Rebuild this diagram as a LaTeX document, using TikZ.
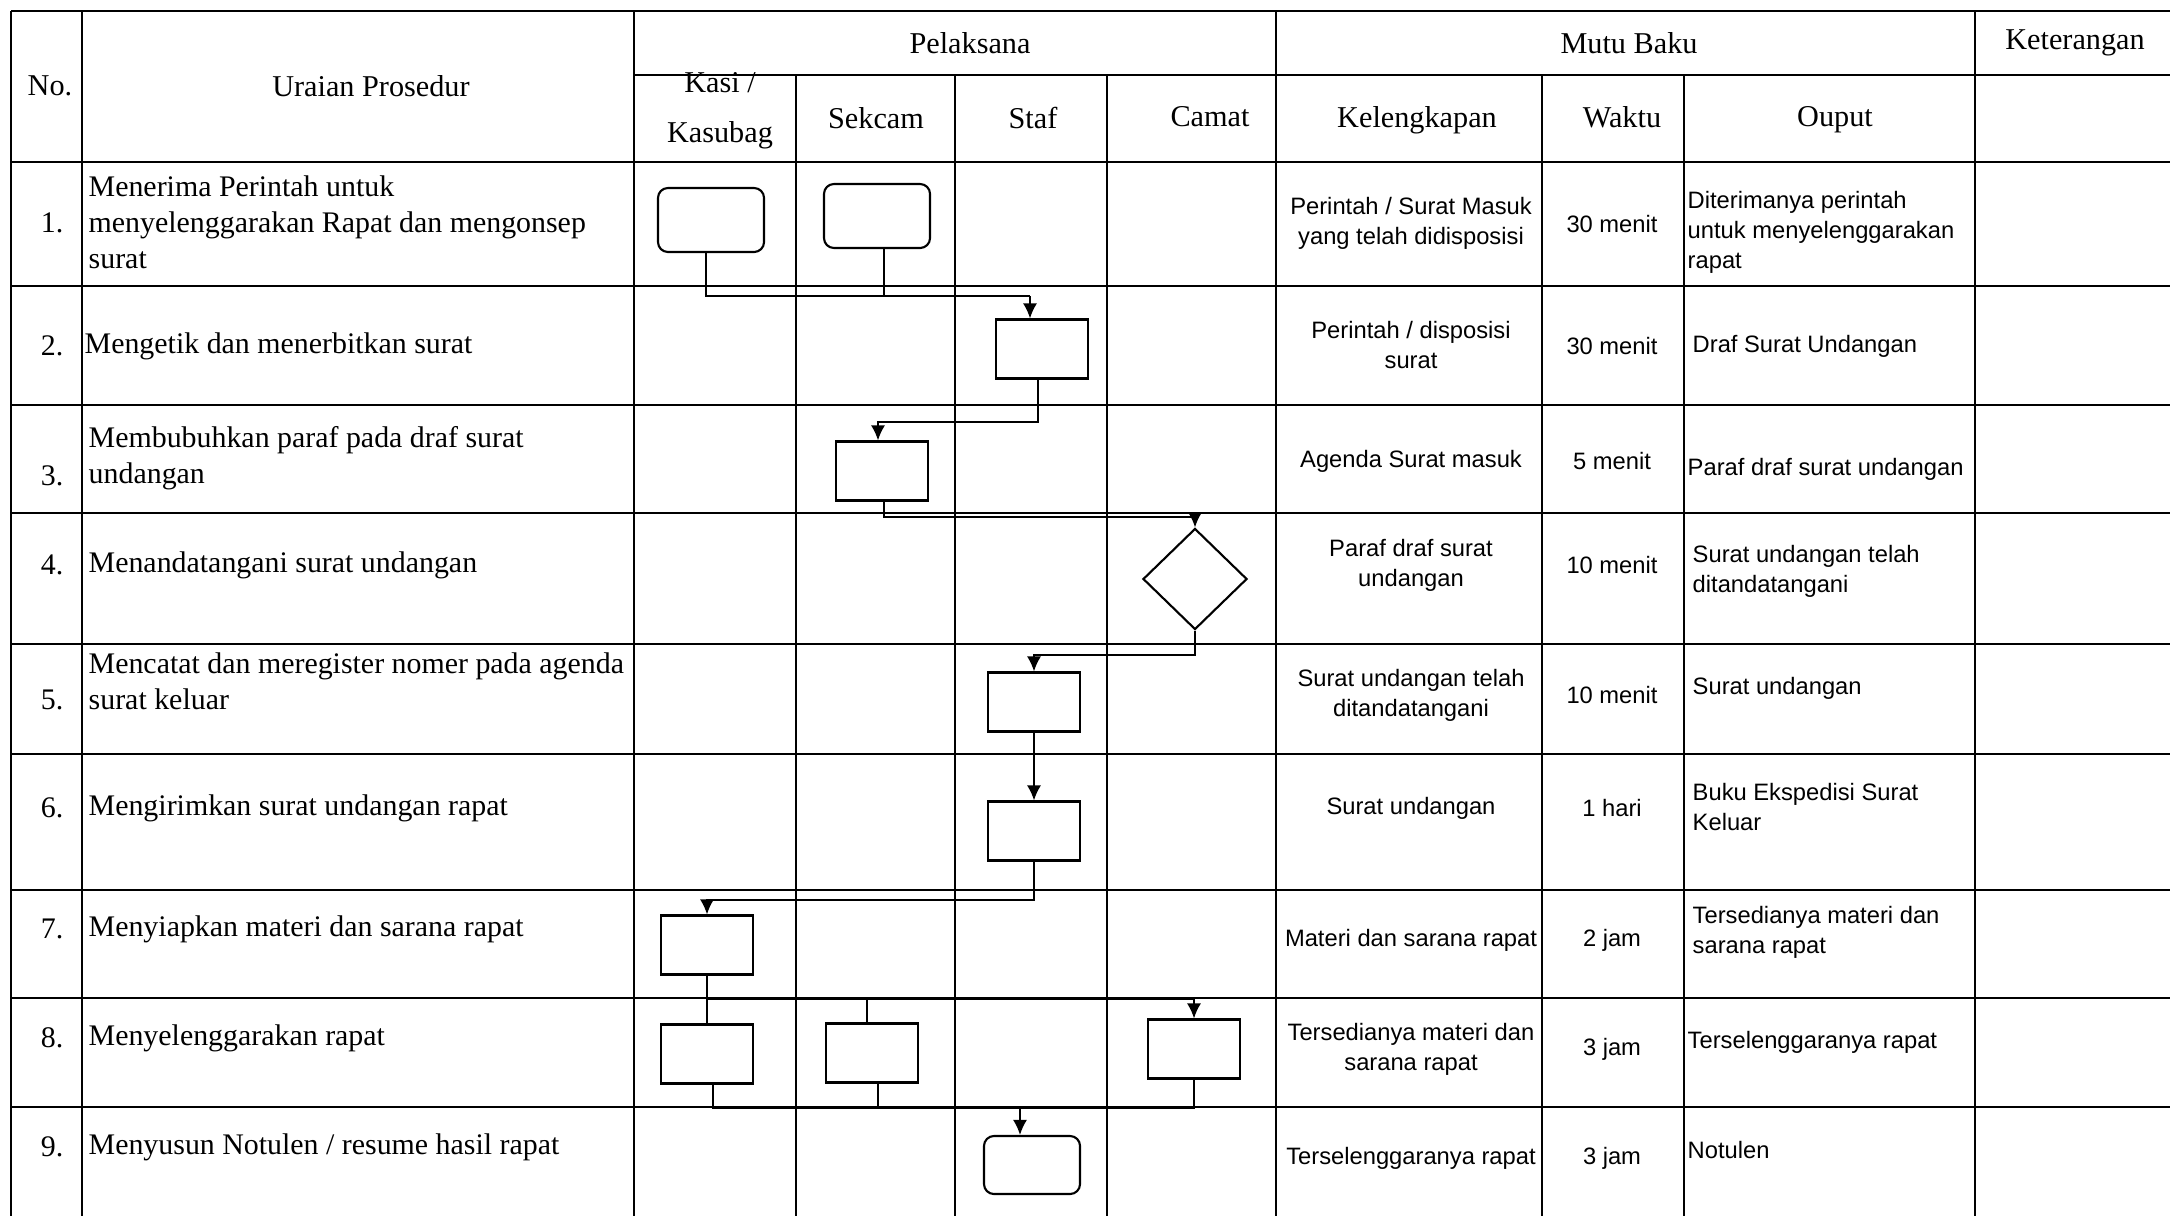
\documentclass[tikz,border=0pt]{standalone}
\usepackage{fontspec}
\setmainfont{Liberation Serif}
\newfontfamily\sansfont{Liberation Sans}
\usetikzlibrary{shapes.geometric,arrows.meta}

\tikzset{
  grid/.style={line width=0.75pt},
  proc/.style={draw, line width=0.6pt, minimum width=0.92cm, minimum height=0.59cm, inner sep=0pt},
  term/.style={proc, rounded corners=0.1cm, minimum width=1.06cm, minimum height=0.64cm},
  decide/.style={draw, diamond, line width=0.6pt, minimum width=1.04cm, minimum height=1.01cm, inner sep=0pt},
  conn/.style={line width=0.5pt},
  hd/.style={font=\fontsize{8.6}{10.3}\selectfont, inner sep=0pt, align=center},
  num/.style={font=\fontsize{8.5}{10.3}\selectfont, inner sep=0pt, anchor=east},
  txt/.style={font=\fontsize{8.5}{10.3}\selectfont, inner sep=0pt, anchor=west, align=left},
  sf/.style={font=\sansfont\fontsize{6.75}{8.5}\selectfont, inner sep=0pt, align=center},
  sfl/.style={sf, anchor=west, align=left}
}

\begin{document}
\begin{tikzpicture}[x=0.01cm, y=-0.01cm, >={Latex[length=1.5mm,width=1.4mm]}]
    \useasboundingbox (0,0) rectangle (2170,1215);
    \clip (0,0) rectangle (2170,1215);

    % garis tabel
    \draw[grid] (11,11) -- (2190,11);
    \draw[grid] (634,75) -- (2190,75);
    \foreach \y in {162,286,405,513,644,754,890,998,1107}
        \draw[grid] (11,\y) -- (2190,\y);
    \foreach \x in {11,82,634,1276,1975}
        \draw[grid] (\x,11) -- (\x,1230);
    \foreach \x in {796,955,1107,1542,1684}
        \draw[grid] (\x,75) -- (\x,1230);

    % kepala tabel
    \node[hd] (hno) at (50,86) {No.};
    \node[hd] (hur) at (371,86) {Uraian Prosedur};
    \node[hd] (hpel) at (970,43) {Pelaksana};
    \node[hd] (hmutu) at (1629,43) {Mutu Baku};
    \node[hd] (hket) at (2075,43) {Keterangan};
    \node[hd] (hkasi) at (720,111) {Kasi /\\[3.8pt]Kasubag};
    \node[hd] (hsek) at (876,118) {Sekcam};
    \node[hd] (hstaf) at (1033,118) {Staf};
    \node[hd] (hcam) at (1210,117) {Camat};
    \node[hd] (hkel) at (1417,120) {Kelengkapan};
    \node[hd] (hwak) at (1622,117) {Waktu};
    \node[hd] (hout) at (1835,120) {Ouput};

    % nomor
    \node[num] (n1) at (64,223) {1.};
    \node[num] (n2) at (64,346) {2.};
    \node[num] (n3) at (64,476) {3.};
    \node[num] (n4) at (64,565) {4.};
    \node[num] (n5) at (64,700) {5.};
    \node[num] (n6) at (64,808) {6.};
    \node[num] (n7) at (64,929) {7.};
    \node[num] (n8) at (64,1038) {8.};
    \node[num] (n9) at (64,1147) {9.};

    % uraian prosedur
    \node[txt] (u1) at (88,222) {Menerima Perintah untuk\\menyelenggarakan Rapat dan mengonsep\\surat};
    \node[txt] (u2) at (84,346) {Mengetik dan menerbitkan surat};
    \node[txt] (u3) at (88,458) {Membubuhkan paraf pada draf surat\\undangan};
    \node[txt] (u4) at (88,565) {Menandatangani surat undangan};
    \node[txt] (u5) at (88,681) {Mencatat dan meregister nomer pada agenda\\surat keluar};
    \node[txt] (u6) at (88,808) {Mengirimkan surat undangan rapat};
    \node[txt] (u7) at (88,929) {Menyiapkan materi dan sarana rapat};
    \node[txt] (u8) at (88,1038) {Menyelenggarakan rapat};
    \node[txt] (u9) at (88,1147) {Menyusun Notulen / resume hasil rapat};

    % kelengkapan
    \node[sf] (kl1) at (1411,223) {Perintah / Surat Masuk\\yang telah didisposisi};
    \node[sf] (kl2) at (1411,345) {Perintah / disposisi\\surat};
    \node[sf] (kl3) at (1411,461) {Agenda Surat masuk};
    \node[sf] (kl4) at (1411,565) {Paraf draf surat\\undangan};
    \node[sf] (kl5) at (1411,695) {Surat undangan telah\\ditandatangani};
    \node[sf] (kl6) at (1411,808) {Surat undangan};
    \node[sf] (kl7) at (1411,940) {Materi dan sarana rapat};
    \node[sf] (kl8) at (1411,1049) {Tersedianya materi dan\\sarana rapat};
    \node[sf] (kl9) at (1411,1158) {Terselenggaranya rapat};

    % waktu
    \node[sf] (w1) at (1612,224) {30 menit};
    \node[sf] (w2) at (1612,346) {30 menit};
    \node[sf] (w3) at (1612,461) {5 menit};
    \node[sf] (w4) at (1612,565) {10 menit};
    \node[sf] (w5) at (1612,695) {10 menit};
    \node[sf] (w6) at (1612,808) {1 hari};
    \node[sf] (w7) at (1612,940) {2 jam};
    \node[sf] (w8) at (1612,1049) {3 jam};
    \node[sf] (w9) at (1612,1158) {3 jam};

    % ouput
    \node[sfl] (o1) at (1687,232) {Diterimanya perintah\\untuk menyelenggarakan\\rapat};
    \node[sfl] (o2) at (1692,346) {Draf Surat Undangan};
    \node[sfl] (o3) at (1687,469) {Paraf draf surat undangan};
    \node[sfl] (o4) at (1692,571) {Surat undangan telah\\ditandatangani};
    \node[sfl] (o5) at (1692,688) {Surat undangan};
    \node[sfl] (o6) at (1692,807) {Buku Ekspedisi Surat\\Keluar};
    \node[sfl] (o7) at (1692,932) {Tersedianya materi dan\\sarana rapat};
    \node[sfl] (o8) at (1687,1042) {Terselenggaranya rapat};
    \node[sfl] (o9) at (1687,1150) {Notulen};

    % bagan alir
    \node[term] (k1) at (711,220) {};
    \node[term] (s1) at (877,216) {};
    \node[proc] (st2) at (1042,349) {};
    \node[proc] (s3) at (882,471) {};
    \node[decide] (c4) at (1195,579) {};
    \node[proc] (st5) at (1034,702) {};
    \node[proc] (st6) at (1034,831) {};
    \node[proc] (k7) at (707,945) {};
    \node[proc] (k8) at (707,1054) {};
    \node[proc] (s8) at (872,1053) {};
    \node[proc] (c8) at (1194,1049) {};
    \node[term, minimum width=0.96cm, minimum height=0.58cm] (st9) at (1032,1165) {};

    \coordinate (j1) at (1030,296);
    \coordinate (j2) at (878,422);
    \coordinate (j3) at (1195,517);
    \coordinate (j4) at (1034,655);
    \coordinate (j6) at (707,900);
    \coordinate (j7) at (707,999);
    \coordinate (j8) at (1020,1108);

    \draw[conn] ([xshift=-0.05cm]k1.south) |- (j1);
    \draw[conn] ([xshift=0.07cm]s1.south) |- (j1);
    \draw[conn, ->] (j1) -- (j1 |- st2.north);
    \draw[conn, ->] ([xshift=-0.04cm]st2.south) |- (j2) -- (j2 |- s3.north);
    \draw[conn, ->] ([xshift=0.02cm]s3.south) |- (j3) -- (c4.north);
    \draw[conn, ->] (c4.south) |- (j4) -- (st5.north);
    \draw[conn, ->] (st5.south) -- (st6.north);
    \draw[conn, ->] (st6.south) |- (j6) -- (k7.north);
    \draw[conn] (k7.south) -- (k8.north);
    \draw[conn, ->] (j7) -| (c8.north);
    \draw[conn] ([xshift=-0.05cm]s8.north) -- ([xshift=-0.05cm]s8.north |- j7);
    \draw[conn] ([xshift=0.06cm]k8.south) |- (j8);
    \draw[conn] ([xshift=0.06cm]s8.south) |- (j8);
    \draw[conn] (c8.south) |- (j8);
    \draw[conn, ->] (j8) -- (j8 |- st9.north);
\end{tikzpicture}
\end{document}
